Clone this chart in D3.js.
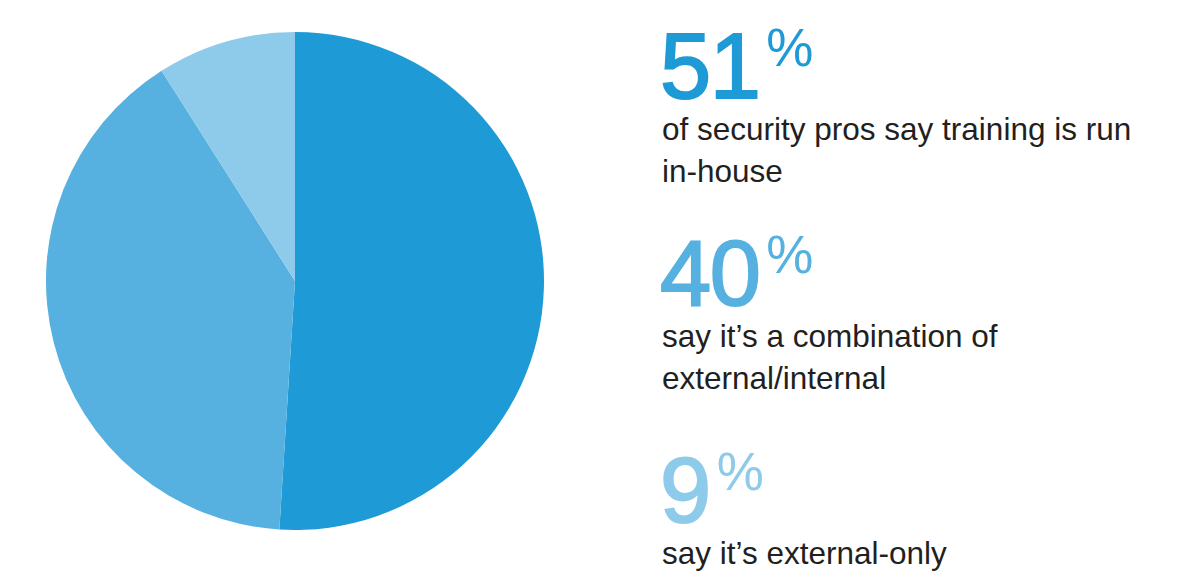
<!DOCTYPE html>
<html>
<head>
<meta charset="utf-8">
<script src="https://cdn.jsdelivr.net/npm/d3@7"></script>
<style>
  body { margin: 0; background: #fff; }
  svg { display: block; }
</style>
</head>
<body>
<svg width="1196" height="575"></svg>
<script>
// survey shares, in pie order (clockwise from 12 o'clock)
var labels = ["in-house", "combination", "external-only"];
var values = [51, 40, 9];
var colors = ["#1e9ad6", "#56b1e0", "#8ecbea"];
var captions = [
    ["of security pros say training is run", "in-house"],
    ["say it\u2019s a combination of", "external/internal"],
    ["say it\u2019s external-only"]
];

var svg = d3.select("svg");

var cx = 295, cy = 281, radius = 249;

var pie = d3.pie().sort(null).value(function(d) { return d; });
var arc = d3.arc().innerRadius(0).outerRadius(radius);

var g = svg.append("g")
    .attr("transform", "translate(" + cx + "," + cy + ")");

g.selectAll("path")
    .data(pie(values))
    .enter().append("path")
    .attr("d", arc)
    .style("fill", function(d, i) { return colors[i]; });

// callouts on the right
var font = "Liberation Sans";
var textX = 662;
var numBase = [98, 305, 522];

values.forEach(function(v, i) {
    var block = svg.append("g");

    var num = block.append("text")
        .attr("x", textX - 2)
        .attr("y", numBase[i])
        .attr("font-family", font)
        .attr("font-size", 92)
        .attr("letter-spacing", -1.5)
        .style("fill", colors[i])
        .style("stroke", colors[i])
        .style("stroke-width", 2)
        .text(v);

    var w = num.node().getComputedTextLength();

    block.append("text")
        .attr("x", textX + w + 5)
        .attr("y", numBase[i] - 32)
        .attr("font-family", font)
        .attr("font-size", 53)
        .style("fill", colors[i])
        .text("%");

    captions[i].forEach(function(line, j) {
        block.append("text")
            .attr("x", textX)
            .attr("y", numBase[i] + 42 + j * 42)
            .attr("font-family", font)
            .attr("font-size", 31.5)
            .style("fill", "#231f20")
            .text(line);
    });
});
</script>
</body>
</html>
